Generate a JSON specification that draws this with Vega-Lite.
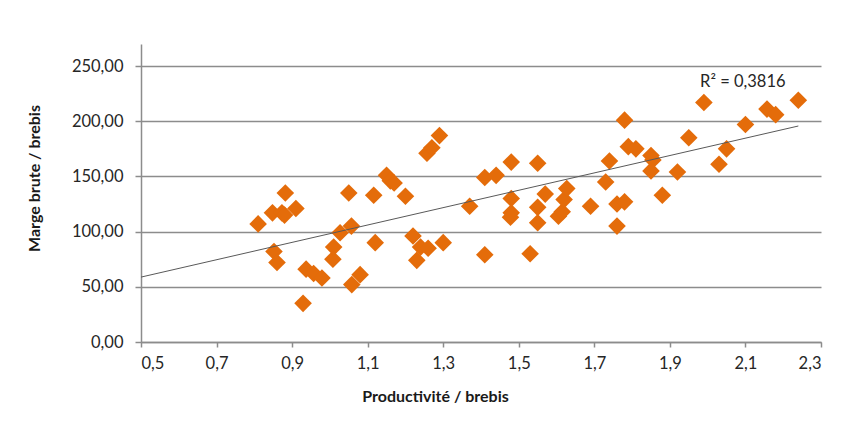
{
  "$schema": "https://vega.github.io/schema/vega-lite/v6.json",
  "width": 680,
  "height": 298,
  "autosize": "none",
  "padding": {"left": 141, "top": 44, "right": 30, "bottom": 80},
  "background": "white",
  "config": {
    "view": {"stroke": null},
    "font": "Lato",
    "axis": {"labelFont": "Lato", "titleFont": "Lato"}
  },
  "datasets": {
    "points": [
      {"x": 0.81, "y": 107}, {"x": 0.848, "y": 117}, {"x": 0.852, "y": 82}, {"x": 0.86, "y": 72},
      {"x": 0.873, "y": 117}, {"x": 0.88, "y": 115}, {"x": 0.882, "y": 135}, {"x": 0.91, "y": 121},
      {"x": 0.929, "y": 35}, {"x": 0.937, "y": 66}, {"x": 0.957, "y": 62}, {"x": 0.979, "y": 58},
      {"x": 1.008, "y": 75}, {"x": 1.01, "y": 86}, {"x": 1.027, "y": 99}, {"x": 1.05, "y": 135},
      {"x": 1.057, "y": 105}, {"x": 1.058, "y": 52}, {"x": 1.08, "y": 61}, {"x": 1.116, "y": 133},
      {"x": 1.12, "y": 90}, {"x": 1.15, "y": 151}, {"x": 1.16, "y": 146}, {"x": 1.17, "y": 144},
      {"x": 1.2, "y": 132}, {"x": 1.22, "y": 96}, {"x": 1.23, "y": 74}, {"x": 1.24, "y": 86},
      {"x": 1.26, "y": 85}, {"x": 1.257, "y": 171}, {"x": 1.27, "y": 176}, {"x": 1.29, "y": 187},
      {"x": 1.3, "y": 90}, {"x": 1.37, "y": 123}, {"x": 1.41, "y": 149}, {"x": 1.41, "y": 79},
      {"x": 1.44, "y": 151}, {"x": 1.48, "y": 163}, {"x": 1.48, "y": 130}, {"x": 1.48, "y": 117},
      {"x": 1.478, "y": 113}, {"x": 1.53, "y": 80}, {"x": 1.55, "y": 162}, {"x": 1.55, "y": 122},
      {"x": 1.55, "y": 108}, {"x": 1.57, "y": 134}, {"x": 1.605, "y": 114}, {"x": 1.615, "y": 118},
      {"x": 1.62, "y": 129}, {"x": 1.627, "y": 139}, {"x": 1.69, "y": 123}, {"x": 1.73, "y": 145},
      {"x": 1.74, "y": 164}, {"x": 1.76, "y": 105}, {"x": 1.76, "y": 125}, {"x": 1.78, "y": 127},
      {"x": 1.78, "y": 201}, {"x": 1.79, "y": 177}, {"x": 1.81, "y": 175}, {"x": 1.85, "y": 169},
      {"x": 1.855, "y": 165}, {"x": 1.85, "y": 155}, {"x": 1.88, "y": 133}, {"x": 1.92, "y": 154},
      {"x": 1.95, "y": 185}, {"x": 1.99, "y": 217}, {"x": 2.03, "y": 161}, {"x": 2.05, "y": 175},
      {"x": 2.1, "y": 197}, {"x": 2.157, "y": 211}, {"x": 2.18, "y": 206}, {"x": 2.24, "y": 219}
    ],
    "trend": [
      {"x": 0.5, "y": 58.8},
      {"x": 2.24, "y": 195.7}
    ],
    "r2": [
      {"x": 1.98, "y": 235.6, "label": "R² = 0,3816"}
    ]
  },
  "layer": [
    {
      "data": {"name": "points"},
      "mark": {"type": "point", "shape": "diamond", "filled": true, "size": 310, "color": "#E46C0A", "opacity": 1},
      "encoding": {
        "x": {
          "field": "x", "type": "quantitative",
          "scale": {"domain": [0.5, 2.3], "nice": false, "zero": false},
          "axis": {
            "title": "Productivité / brebis",
            "values": [0.5, 0.7, 0.9, 1.1, 1.3, 1.5, 1.7, 1.9, 2.1, 2.3],
            "labelExpr": "replace(format(datum.value, '.1f'), '.', ',')",
            "grid": false,
            "domainColor": "#8c8c8c", "domainWidth": 1.5,
            "tickColor": "#8c8c8c", "tickWidth": 1.5, "tickSize": 5,
            "labelFontSize": 16.5, "labelColor": "#262626", "labelPadding": 8,
            "titleFontSize": 16, "titleFontWeight": "bold", "titleColor": "#1a1a1a",
            "titleX": 294, "titleY": 59, "titleBaseline": "alphabetic"
          }
        },
        "y": {
          "field": "y", "type": "quantitative",
          "scale": {"domain": [0, 270], "nice": false},
          "axis": {
            "title": "Marge brute / brebis",
            "values": [0, 50, 100, 150, 200, 250],
            "labelExpr": "replace(format(datum.value, '.2f'), '.', ',')",
            "grid": true, "gridColor": "#8c8c8c", "gridWidth": 1.5,
            "domainColor": "#8c8c8c", "domainWidth": 1.5,
            "tickColor": "#8c8c8c", "tickWidth": 1.5, "tickSize": 6,
            "labelFontSize": 16.5, "labelColor": "#262626", "labelPadding": 12,
            "titleFontSize": 16, "titleFontWeight": "bold", "titleColor": "#1a1a1a",
            "titleX": -99, "titleY": 134, "titleBaseline": "bottom", "titleAngle": -90
          }
        }
      }
    },
    {
      "data": {"name": "trend"},
      "mark": {"type": "line", "color": "#595959", "strokeWidth": 1},
      "encoding": {
        "x": {"field": "x", "type": "quantitative"},
        "y": {"field": "y", "type": "quantitative"}
      }
    },
    {
      "data": {"name": "r2"},
      "mark": {"type": "text", "align": "left", "baseline": "middle", "fontSize": 16.5, "color": "#262626", "font": "Lato"},
      "encoding": {
        "x": {"field": "x", "type": "quantitative"},
        "y": {"field": "y", "type": "quantitative"},
        "text": {"field": "label"}
      }
    }
  ]
}
